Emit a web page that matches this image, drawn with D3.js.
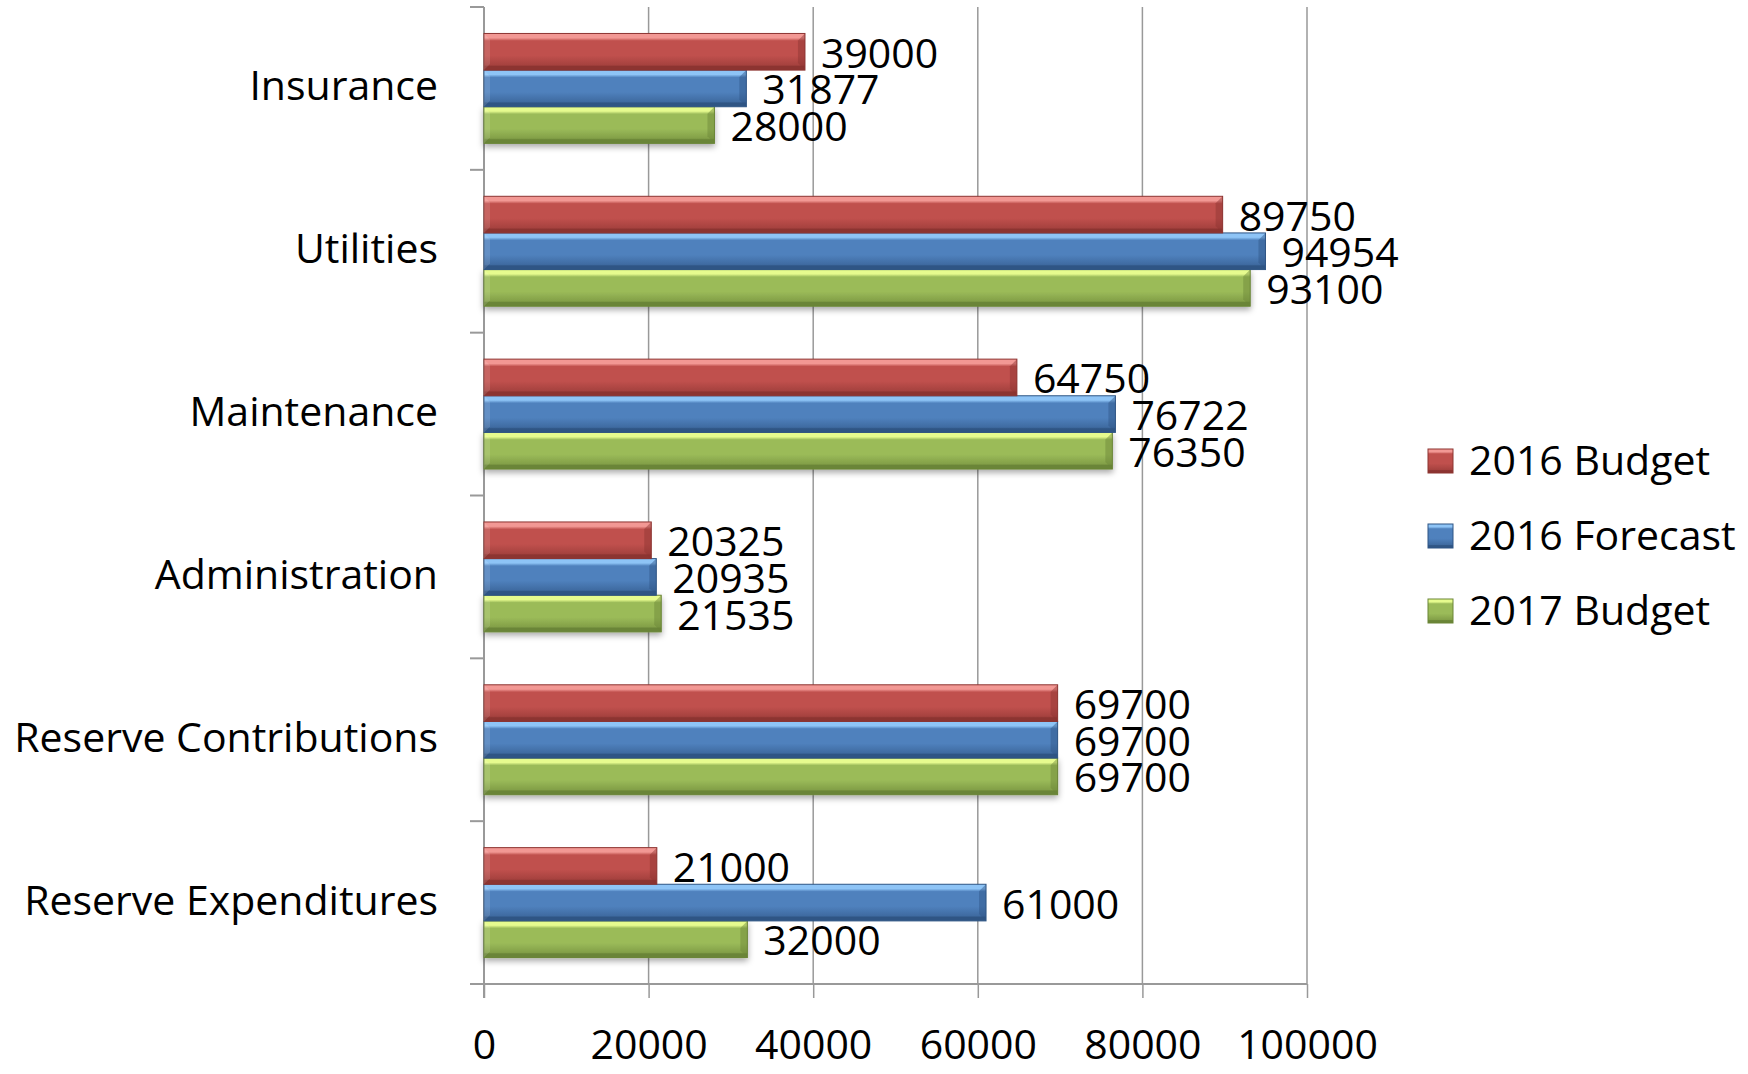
<!DOCTYPE html>
<html>
<head>
<meta charset="utf-8">
<script src="https://cdn.jsdelivr.net/npm/d3@7"></script>
<style>
  body { margin: 0; background: #fff; }
  text { font-family: "Open Sans", "Noto Sans", sans-serif; fill: #000; }
</style>
</head>
<body>
<svg id="chart" width="1748" height="1074"></svg>
<script>
/**********************
 Data
**********************/
var categories = ["Insurance", "Utilities", "Maintenance", "Administration",
                  "Reserve Contributions", "Reserve Expenditures"];
var seriesNames = ["2016 Budget", "2016 Forecast", "2017 Budget"];
var budget2016   = [39000, 89750, 64750, 20325, 69700, 21000];
var forecast2016 = [31877, 94954, 76722, 20935, 69700, 61000];
var budget2017   = [28000, 93100, 76350, 21535, 69700, 32000];
var xTicks = [0, 20000, 40000, 60000, 80000, 100000];

var seriesValues = [budget2016, forecast2016, budget2017];
var seriesColors = [
  {main: '#c0504d', light: '#f29894', dark: '#8c3431', key: 'red'},
  {main: '#4f81bd', light: '#8ec4f6', dark: '#2f5584', key: 'blue'},
  {main: '#9bbb59', light: '#e6fb8e', dark: '#6a8537', key: 'green'}
];

// rows for the data join
var rows = [];
categories.forEach(function(c, i) {
  seriesNames.forEach(function(s, j) {
    rows.push({cat: c, series: s, idx: j, value: seriesValues[j][i]});
  });
});

/**********************
 Layout
**********************/
var svg = d3.select('#chart');
var plot = {l: 484, r: 1307, t: 7, b: 984};

var xScale = d3.scaleLinear().domain([0, 100000]).range([plot.l, plot.r]);
var yScale = d3.scaleBand().domain(categories).range([plot.t, plot.b])
    .paddingInner(0.325).paddingOuter(0.1625);
var ySub = d3.scaleBand().domain(seriesNames).range([0, yScale.bandwidth()]);

/**********************
 Gradients / filters
**********************/
var defs = svg.append('defs');
seriesColors.forEach(function(c) {
  var g = defs.append('linearGradient').attr('id', 'grad-' + c.key)
      .attr('x1', 0).attr('y1', 0).attr('x2', 0).attr('y2', 1);
  g.append('stop').attr('offset', '0%').attr('stop-color', c.light);
  g.append('stop').attr('offset', '12%').attr('stop-color', c.light);
  g.append('stop').attr('offset', '20%').attr('stop-color', c.main);
  g.append('stop').attr('offset', '60%').attr('stop-color', c.main);
  g.append('stop').attr('offset', '86%').attr('stop-color', d3.interpolateRgb(c.main, c.dark)(0.5));
  g.append('stop').attr('offset', '90%').attr('stop-color', c.dark);
  g.append('stop').attr('offset', '100%').attr('stop-color', c.dark);
});
var shadow = defs.append('filter').attr('id', 'shadow')
    .attr('x', '-5%').attr('y', '-20%').attr('width', '110%').attr('height', '160%');
shadow.append('feDropShadow').attr('dx', 0).attr('dy', 3).attr('stdDeviation', 3)
    .attr('flood-color', '#000').attr('flood-opacity', 0.35);

/**********************
 Gridlines and axes
**********************/
svg.append('g').selectAll('line.grid')
  .data(xTicks.slice(1))
  .enter().append('line')
    .attr('class', 'grid')
    .attr('x1', function(d) { return xScale(d); })
    .attr('x2', function(d) { return xScale(d); })
    .attr('y1', plot.t).attr('y2', plot.b)
    .attr('stroke', '#999').attr('stroke-width', 1.5);

var xAxisG = svg.append('g')
    .attr('transform', 'translate(0,' + plot.b + ')')
    .call(d3.axisBottom(xScale).tickValues(xTicks).tickFormat(d3.format('d'))
      .tickSize(14).tickSizeOuter(0).tickPadding(32));
xAxisG.select('.domain').remove();
xAxisG.selectAll('.tick line').attr('stroke', '#999').attr('stroke-width', 1.5);
xAxisG.selectAll('.tick text')
    .style('font-family', '"Open Sans", "Noto Sans", sans-serif')
    .style('font-size', '41px').attr('fill', '#000');
xAxisG.append('line')
    .attr('x1', plot.l - 14).attr('x2', plot.r)
    .attr('y1', 0).attr('y2', 0)
    .attr('stroke', '#999').attr('stroke-width', 2);

// left axis with category boundary ticks
var boundaries = categories.map(function(c) { return yScale(c) - yScale.step() * yScale.paddingInner() / 2; });
boundaries.push(plot.b);
svg.append('line')
    .attr('x1', plot.l).attr('x2', plot.l).attr('y1', plot.t).attr('y2', plot.b + 14)
    .attr('stroke', '#999').attr('stroke-width', 2);
svg.append('g').selectAll('line')
  .data(boundaries)
  .enter().append('line')
    .attr('x1', plot.l - 14).attr('x2', plot.l)
    .attr('y1', function(d) { return d; }).attr('y2', function(d) { return d; })
    .attr('stroke', '#999').attr('stroke-width', 2);

svg.append('g').selectAll('text.cat')
  .data(categories)
  .enter().append('text')
    .attr('class', 'cat')
    .attr('x', 438)
    .attr('y', function(d) { return yScale(d) + yScale.bandwidth() / 2 - 4; })
    .attr('text-anchor', 'end')
    .attr('dominant-baseline', 'central')
    .style('font-size', '41px')
    .text(function(d) { return d; });

/**********************
 Bars
**********************/
// draw green first so the red/blue bars sit above its shadow
var barG = svg.append('g');
var bars = barG.selectAll('g.bar')
  .data(rows.slice().sort(function(a, b) { return b.idx - a.idx; }))
  .enter().append('g')
    .attr('class', 'bar')
    .attr('transform', function(d) {
      return 'translate(' + [xScale(0), yScale(d.cat) + ySub(d.series)] + ')';
    });

bars.append('rect')
    .attr('width', function(d) { return xScale(d.value) - xScale(0); })
    .attr('height', ySub.bandwidth())
    .attr('fill', function(d) { return 'url(#grad-' + seriesColors[d.idx].key + ')'; })
    .attr('stroke', function(d) { return seriesColors[d.idx].dark; })
    .attr('stroke-width', 1)
    .attr('filter', function(d) { return d.idx === 2 ? 'url(#shadow)' : null; });

// right-end bevel
bars.append('path')
    .attr('d', function(d) {
      var w = xScale(d.value) - xScale(0), h = ySub.bandwidth(), b = 7;
      return 'M' + (w - b) + ',' + b + 'L' + w + ',0L' + w + ',' + h + 'L' + (w - b) + ',' + (h - b) + 'Z';
    })
    .attr('fill', function(d) { return seriesColors[d.idx].dark; })
    .attr('opacity', 0.45);

// left-end bevel (lighter)
bars.append('path')
    .attr('d', function(d) {
      var h = ySub.bandwidth(), b = 6;
      return 'M0,0L' + b + ',' + b + 'L' + b + ',' + (h - b) + 'L0,' + h + 'Z';
    })
    .attr('fill', '#fff')
    .attr('opacity', 0.12);

// value labels
svg.append('g').selectAll('text.val')
  .data(rows)
  .enter().append('text')
    .attr('class', 'val')
    .attr('x', function(d) { return xScale(d.value) + 16; })
    .attr('y', function(d) { return yScale(d.cat) + ySub(d.series) + ySub.bandwidth() / 2; })
    .attr('dominant-baseline', 'central')
    .style('font-size', '41px')
    .text(function(d) { return d.value; });

/**********************
 Legend
**********************/
var legend = svg.append('g').selectAll('g.legend')
  .data(seriesNames)
  .enter().append('g')
    .attr('class', 'legend')
    .attr('transform', function(d, i) { return 'translate(1428,' + (461 + i * 75) + ')'; });
legend.append('rect')
    .attr('x', 0).attr('y', -12).attr('width', 25).attr('height', 24)
    .attr('fill', function(d, i) { return 'url(#grad-' + seriesColors[i].key + ')'; })
    .attr('stroke', function(d, i) { return seriesColors[i].dark; });
legend.append('text')
    .attr('x', 41).attr('y', -2)
    .attr('dominant-baseline', 'central')
    .style('font-size', '41px')
    .text(function(d) { return d; });
</script>
</body>
</html>
